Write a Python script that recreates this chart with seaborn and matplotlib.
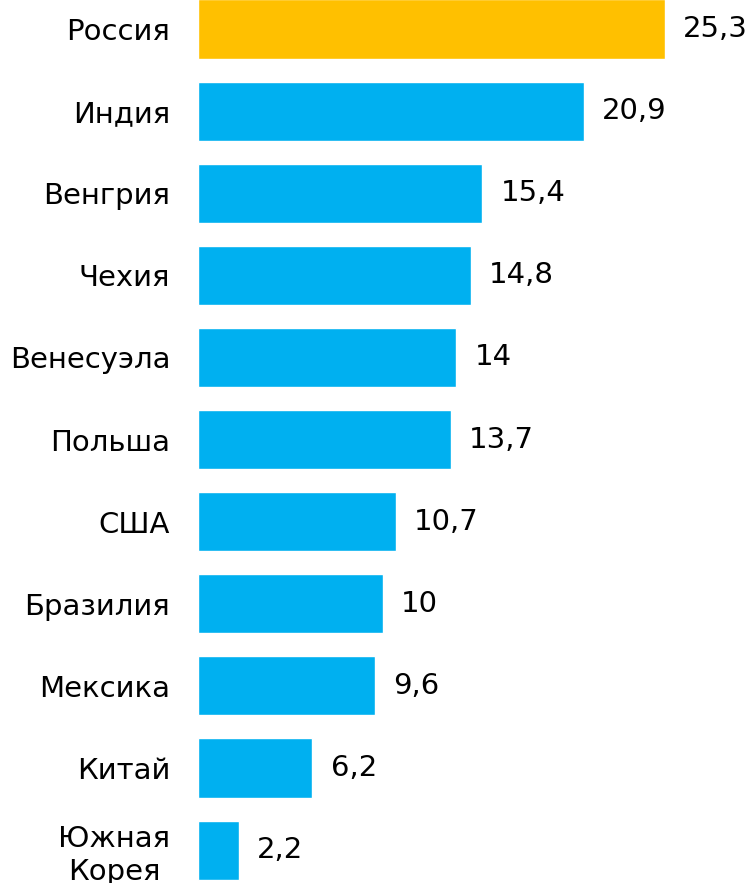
import numpy as np
import pandas as pd
import seaborn as sns
import matplotlib.pyplot as plt

countries = ['Россия', 'Индия', 'Венгрия', 'Чехия', 'Венесуэла', 'Польша',
             'США', 'Бразилия', 'Мексика', 'Китай', 'Южная\nКорея']
values = [25.3, 20.9, 15.4, 14.8, 14, 13.7, 10.7, 10, 9.6, 6.2, 2.2]
value_labels = ['25,3', '20,9', '15,4', '14,8', '14', '13,7', '10,7', '10', '9,6', '6,2', '2,2']
bar_colors = ['#FFC000'] + ['#00B0F0'] * 10

sns.set_style('white')
plt.rcParams['font.family'] = ['DejaVu Sans']
plt.rcParams['text.color'] = 'black'

df = pd.DataFrame({'country': countries, 'value': values})

fig = plt.figure(figsize=(7.49, 8.83), dpi=100)
ax = fig.add_axes([198 / 749, 0, 1 - 198 / 749, 1])

sns.barplot(data=df, x='value', y='country', hue='country', palette=bar_colors,
            width=0.72, legend=False, saturation=1, ax=ax)

ax.set_xlim(0, 551 / 18.46)
ax.set_ylim(10.40, -0.353)
ax.set_xlabel('')
ax.set_ylabel('')
ax.set_xticks([])
ax.tick_params(axis='y', length=0, pad=20, labelsize=21, labelcolor='black')
for lbl in ax.get_yticklabels():
    lbl.set_multialignment('center')
sns.despine(ax=ax, left=True, bottom=True, top=True, right=True)

for container, lab in zip(ax.containers, value_labels):
    ax.bar_label(container, labels=[lab], padding=13, fontsize=21, color='black')

fig.savefig('out.png', dpi=100)
